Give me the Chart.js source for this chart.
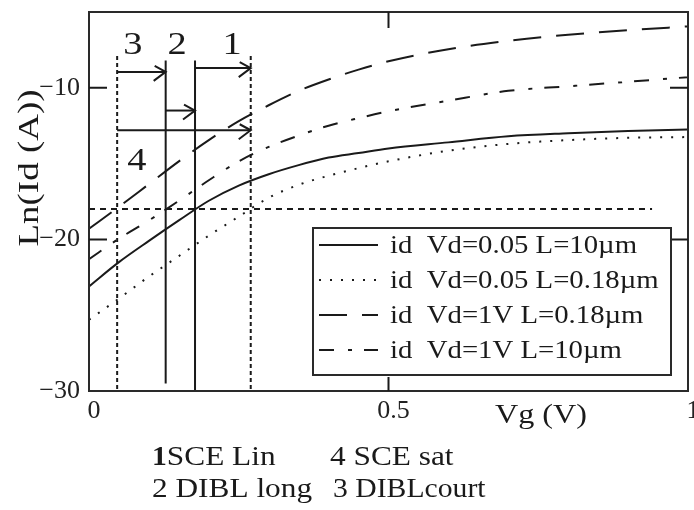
<!DOCTYPE html>
<html>
<head>
<meta charset="utf-8">
<script src="https://cdn.jsdelivr.net/npm/chart.js@4.4.1/dist/chart.umd.min.js"></script>
<style>
  html, body { margin: 0; padding: 0; background: #fff; }
  canvas { display: block; }
</style>
</head>
<body>
<canvas id="chart" width="694" height="510"></canvas>
<script>
// Gate voltage samples (V)
const vg = [0, 0.05, 0.1, 0.15, 0.2, 0.25, 0.3, 0.35, 0.4, 0.45, 0.5, 0.6, 0.7, 0.8, 0.9, 1.0];

// ln(Id) for each drain bias / gate length
const lnIdVd005L10  = [-23.1, -21.5, -20.1, -18.75, -17.45, -16.45, -15.7, -15.1, -14.6, -14.3, -14.0, -13.6, -13.2, -13.0, -12.85, -12.75];
const lnIdVd005L018 = [-25.3, -23.9, -22.45, -21.1, -19.75, -18.5, -17.25, -16.4, -15.8, -15.3, -14.85, -14.15, -13.7, -13.45, -13.3, -13.25];
const lnIdVd1L018   = [-19.3, -17.85, -16.35, -14.85, -13.45, -12.2, -11.15, -10.2, -9.45, -8.8, -8.25, -7.45, -6.9, -6.5, -6.2, -5.95];
const lnIdVd1L10    = [-21.3, -19.95, -18.75, -17.45, -16.1, -14.85, -13.9, -13.15, -12.5, -12.0, -11.55, -10.85, -10.2, -9.9, -9.6, -9.3];

const seriesLabels = [
  'id  Vd=0.05 L=10\u00b5m',
  'id  Vd=0.05 L=0.18\u00b5m',
  'id  Vd=1V L=0.18\u00b5m',
  'id  Vd=1V L=10\u00b5m'
];

// Axis ticks
const xTicks = [0, 0.5, 1];
const yTicks = [-30, -20, -10];

// Current criterion used to extract the threshold voltages
const criterion = -18;
const criterionEnd = 0.94;

// Threshold voltages read at the criterion, and the extent of their guides
const guideX      = [0.047, 0.128, 0.177, 0.27];
const guideTop    = [-7.9, -8.2, -8.2, -7.9];
const guideBottom = [-30, -29.5, -30, -30];
const guideDotted = [true, false, false, true];

// Shift arrows between thresholds: 3 DIBL court, 1 SCE lin, 2 DIBL long, 4 SCE sat
const arrowNames = ['3', '1', '2', '4'];
const arrowFrom  = [0.047, 0.177, 0.128, 0.047];
const arrowTo    = [0.128, 0.27, 0.177, 0.27];
const arrowLevel = [-8.95, -8.7, -11.5, -12.8];

const serif = "'Liberation Serif', 'Times New Roman', serif";
const ink = '#1a1a1a';

const curveStyles = [
  { dash: [] },
  { dash: [2, 9] },
  { dash: [28, 15] },
  { dash: [15, 14, 4, 12] }
];
const curveValues = [lnIdVd005L10, lnIdVd005L018, lnIdVd1L018, lnIdVd1L10];

const datasets = curveValues.map((vals, i) => ({
  label: seriesLabels[i],
  isCurve: true,
  data: vg.map((v, k) => ({ x: v, y: vals[k] })),
  borderColor: ink,
  borderWidth: 2,
  borderDash: curveStyles[i].dash,
  borderCapStyle: 'butt',
  cubicInterpolationMode: 'monotone',
  pointRadius: 0,
  fill: false
}));

// Criterion line
datasets.push({
  label: 'criterion',
  data: [{ x: 0, y: criterion }, { x: criterionEnd, y: criterion }],
  borderColor: ink, borderWidth: 2, borderDash: [6, 5], pointRadius: 0, fill: false
});

// Threshold guides
guideX.forEach((gx, i) => {
  datasets.push({
    label: 'guide',
    data: [{ x: gx, y: guideTop[i] }, { x: gx, y: guideBottom[i] }],
    borderColor: ink, borderWidth: 2,
    borderDash: guideDotted[i] ? [4, 3] : [],
    pointRadius: 0, fill: false
  });
});

// Arrow shafts
arrowFrom.forEach((fx, i) => {
  datasets.push({
    label: 'arrow',
    arrowTip: { x: arrowTo[i], y: arrowLevel[i] },
    data: [{ x: fx, y: arrowLevel[i] }, { x: arrowTo[i], y: arrowLevel[i] }],
    borderColor: ink, borderWidth: 2, pointRadius: 0, fill: false
  });
});

// Number tags next to the arrows (data coordinates)
const tagPlacement = [
  { text: '3', x: 0.073, y: -7.75 },
  { text: '2', x: 0.147, y: -7.75 },
  { text: '1', x: 0.239, y: -7.75 },
  { text: '4', x: 0.08,  y: -15.45 }
];

function drawText(ctx, str, x, y, size, sx, align, weight) {
  ctx.save();
  ctx.font = (weight || 'normal') + ' ' + size + 'px ' + serif;
  ctx.textBaseline = 'alphabetic';
  ctx.textAlign = 'left';
  const w = ctx.measureText(str).width * sx;
  let x0 = x;
  if (align === 'center') x0 = x - w / 2;
  else if (align === 'right') x0 = x - w;
  ctx.translate(x0, y);
  ctx.scale(sx, 1);
  ctx.fillStyle = ink;
  ctx.fillText(str, 0, 0);
  ctx.restore();
  return w;
}

function fitText(ctx, str, x, y, size, width, align, weight) {
  ctx.save();
  ctx.font = (weight || 'normal') + ' ' + size + 'px ' + serif;
  const sx = width / ctx.measureText(str).width;
  ctx.restore();
  return drawText(ctx, str, x, y, size, sx, align, weight);
}

const decorations = {
  id: 'decorations',
  afterDatasetsDraw(chart) {
    const { ctx, chartArea: a, scales: { x, y } } = chart;
    ctx.save();
    ctx.strokeStyle = ink;
    ctx.lineWidth = 2;
    ctx.setLineDash([]);

    // Arrow heads
    chart.data.datasets.forEach(ds => {
      if (!ds.arrowTip) return;
      const px = x.getPixelForValue(ds.arrowTip.x);
      const py = y.getPixelForValue(ds.arrowTip.y);
      ctx.beginPath();
      ctx.moveTo(px - 11, py - 6);
      ctx.lineTo(px, py);
      ctx.lineTo(px - 12, py + 9);
      ctx.stroke();
    });

    // Plot frame
    ctx.strokeStyle = '#2a2a2a';
    ctx.strokeRect(a.left, a.top, a.right - a.left, a.bottom - a.top);

    // Inward tick marks
    ctx.strokeStyle = ink;
    ctx.beginPath();
    yTicks.forEach(v => {
      if (v <= y.min || v >= y.max) return;
      const py = y.getPixelForValue(v);
      ctx.moveTo(a.left, py); ctx.lineTo(a.left + 18, py);
      ctx.moveTo(a.right, py); ctx.lineTo(a.right - 18, py);
    });
    xTicks.forEach(v => {
      if (v <= x.min || v >= x.max) return;
      const px = x.getPixelForValue(v);
      ctx.moveTo(px, a.bottom); ctx.lineTo(px, a.bottom - 14);
      ctx.moveTo(px, a.top); ctx.lineTo(px, a.top + 16);
    });
    ctx.stroke();

    // Number tags
    tagPlacement.forEach(t => {
      drawText(ctx, t.text, x.getPixelForValue(t.x), y.getPixelForValue(t.y), 32, 1.2, 'center');
    });
    ctx.restore();
  },
  afterDraw(chart) {
    const { ctx } = chart;
    ctx.save();

    // Legend box
    const box = { l: 313, t: 228, r: 671, b: 375 };
    ctx.fillStyle = '#fff';
    ctx.fillRect(box.l, box.t, box.r - box.l, box.b - box.t);
    ctx.strokeStyle = '#2a2a2a';
    ctx.lineWidth = 2;
    ctx.setLineDash([]);
    ctx.strokeRect(box.l, box.t, box.r - box.l, box.b - box.t);

    const curves = chart.data.datasets.filter(d => d.isCurve);
    curves.forEach((ds, i) => {
      const base = 253 + i * 35;
      ctx.save();
      ctx.strokeStyle = ink;
      ctx.lineWidth = 2;
      ctx.lineCap = 'butt';
      ctx.setLineDash(ds.borderDash);
      ctx.beginPath();
      ctx.moveTo(319, base - 8);
      ctx.lineTo(378, base - 8);
      ctx.stroke();
      ctx.restore();
      drawText(ctx, ds.label, 390, base, 25, 1.15, 'left');
    });

    // Axis titles
    fitText(ctx, 'Vg (V)', 495, 423, 27, 92, 'left');
    ctx.save();
    ctx.translate(38, 168);
    ctx.rotate(-Math.PI / 2);
    fitText(ctx, 'Ln(Id (A))', 0, 0, 29, 157, 'center');
    ctx.restore();

    // Effect notes below the axis
    let w = drawText(ctx, '1', 152, 465, 27, 1.1, 'left', 'bold');
    drawText(ctx, 'SCE Lin', 152 + w, 465, 27, 1.16, 'left');
    drawText(ctx, '4 SCE sat', 330, 465, 27, 1.16, 'left');
    drawText(ctx, '2 DIBL long', 152, 497, 27, 1.16, 'left');
    drawText(ctx, '3 DIBLcourt', 333, 497, 27, 1.1, 'left');
    ctx.restore();
  }
};

new Chart(document.getElementById('chart'), {
  type: 'line',
  data: { datasets },
  options: {
    responsive: false,
    devicePixelRatio: 1,
    animation: false,
    layout: { padding: { top: 12, right: 6, left: 0, bottom: 0 } },
    plugins: { legend: { display: false }, tooltip: { enabled: false } },
    scales: {
      x: {
        type: 'linear',
        min: 0, max: 1,
        afterBuildTicks: s => { s.ticks = xTicks.map(v => ({ value: v })); },
        afterFit: s => { s.height = 119; s.paddingLeft = 0; s.paddingRight = 0; },
        grid: { display: false, drawTicks: false },
        border: { display: false },
        ticks: {
          autoSkip: false, maxRotation: 0,
          labelOffset: 5, padding: 5,
          color: '#222',
          font: { family: serif, size: 26 },
          callback: v => String(v)
        }
      },
      y: {
        type: 'linear',
        min: -30, max: -5,
        afterBuildTicks: s => { s.ticks = yTicks.map(v => ({ value: v })); },
        afterFit: s => { s.width = 89; s.paddingTop = 0; s.paddingBottom = 0; },
        grid: { display: false, drawTicks: false },
        border: { display: false },
        ticks: {
          padding: 9,
          color: '#222',
          font: { family: serif, size: 26 },
          callback: v => '\u2212' + Math.abs(v)
        }
      }
    }
  },
  plugins: [decorations]
});
</script>
</body>
</html>
